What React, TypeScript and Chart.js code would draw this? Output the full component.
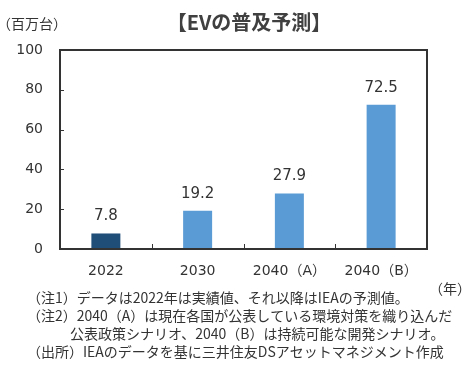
import React, { useEffect, useRef } from "react";
import { Chart, registerables } from "chart.js";

Chart.register(...registerables);

const categories = ["2022", "2030", "2040（A）", "2040（B）"];
const values = [7.8, 19.2, 27.9, 72.5];
const barColors = ["#1F4E79", "#5B9BD5", "#5B9BD5", "#5B9BD5"];
const yMin = 0;
const yMax = 100;
const yStep = 20;
const titleText = "【EVの普及予測】";
const yUnitText = "（百万台）";
const xUnitText = "（年）";
const noteLines = [
  "（注1）データは2022年は実績値、それ以降はIEAの予測値。",
  "（注2）2040（A）は現在各国が公表している環境対策を織り込んだ",
  "公表政策シナリオ、2040（B）は持続可能な開発シナリオ。",
  "（出所）IEAのデータを基に三井住友DSアセットマネジメント作成",
];

const NUM_FONT = '"DejaVu Sans", "Noto Sans CJK JP", sans-serif';
const JP_FONT = '"Noto Sans CJK JP", "DejaVu Sans", sans-serif';
const TEXT = "#333333";

const decorPlugin = {
  id: "decor",
  afterDraw(chart: any) {
    const ctx = chart.ctx;
    const a = chart.chartArea;
    const xs = chart.scales.x;
    const ys = chart.scales.y;
    ctx.save();
    // frame
    ctx.strokeStyle = "#333333";
    ctx.lineWidth = 2;
    ctx.strokeRect(a.left, a.top, a.right - a.left, a.bottom - a.top);
    // y tick marks (inward)
    ctx.lineWidth = 1;
    ys.ticks.forEach((t: any) => {
      const y = Math.round(ys.getPixelForValue(t.value)) + 0.5;
      ctx.beginPath();
      ctx.moveTo(a.left, y);
      ctx.lineTo(a.left + 4, y);
      ctx.stroke();
    });
    // x tick marks between categories (inward)
    for (let i = 1; i < categories.length; i++) {
      const x = Math.round((xs.getPixelForValue(i - 1) + xs.getPixelForValue(i)) / 2) + 0.5;
      ctx.beginPath();
      ctx.moveTo(x, a.bottom);
      ctx.lineTo(x, a.bottom - 5);
      ctx.stroke();
    }
    // data labels
    const meta = chart.getDatasetMeta(0);
    ctx.fillStyle = TEXT;
    ctx.font = "15px " + NUM_FONT;
    ctx.textAlign = "center";
    ctx.textBaseline = "alphabetic";
    meta.data.forEach((bar: any, i: number) => {
      ctx.fillText(String(values[i]), bar.x, bar.y - 13);
    });
    // title
    ctx.font = "bold 20px " + JP_FONT;
    ctx.fillStyle = "#404040";
    ctx.textBaseline = "middle";
    ctx.fillText(titleText, 249, 22);
    // units
    ctx.font = "14px " + JP_FONT;
    ctx.fillStyle = TEXT;
    ctx.textAlign = "left";
    ctx.fillText(yUnitText, -3, 24);
    ctx.fillText(xUnitText, 429, 289);
    // notes
    ctx.font = "14px " + JP_FONT;
    ctx.textBaseline = "middle";
    const noteX = [27, 27, 70, 27];
    const noteY = [298, 316, 334, 352];
    noteLines.forEach((line, i) => {
      ctx.fillText(line, noteX[i], noteY[i]);
    });
    ctx.restore();
  },
};

export default function App() {
  const ref = useRef<HTMLCanvasElement | null>(null);
  useEffect(() => {
    if (!ref.current) return;
    const chart = new Chart(ref.current, {
      type: "bar",
      data: {
        labels: categories,
        datasets: [
          {
            data: values,
            backgroundColor: barColors,
            borderWidth: 0,
            categoryPercentage: 1,
            barPercentage: 0.316,
          },
        ],
      },
      options: {
        responsive: false,
        animation: false,
        layout: { padding: { top: 50, right: 48, left: 0, bottom: 0 } },
        plugins: {
          legend: { display: false },
          title: { display: false },
          tooltip: { enabled: false },
        },
        scales: {
          x: {
            grid: { display: false, drawTicks: false },
            border: { display: false },
            ticks: {
              color: TEXT,
              font: { family: NUM_FONT, size: 14 },
              padding: 14,
              maxRotation: 0,
              autoSkip: false,
            },
            afterFit: (s: any) => {
              s.height = 130;
            },
          },
          y: {
            min: yMin,
            max: yMax,
            grid: { display: false, drawTicks: false },
            border: { display: false },
            ticks: {
              stepSize: yStep,
              color: TEXT,
              font: { family: NUM_FONT, size: 14 },
              padding: 17,
            },
            afterFit: (s: any) => {
              s.width = 60;
            },
          },
        },
      },
      plugins: [decorPlugin],
    });
    return () => chart.destroy();
  }, []);
  return (
    <div style={{ position: "absolute", left: 0, top: 0, width: 475, height: 379, background: "#fff" }}>
      <canvas ref={ref} width={475} height={379} />
    </div>
  );
}
